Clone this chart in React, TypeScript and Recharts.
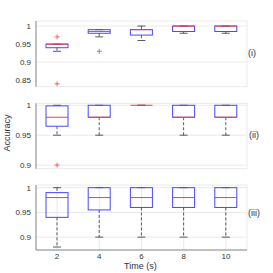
import { Bar, CartesianGrid, ComposedChart, Scatter, XAxis, YAxis } from "recharts"

const times = [2, 4, 6, 8, 10]

// panel (i)
const lo1 = [0.93, 0.97, 0.96, 0.98, 0.98]
const q1s1 = [0.94, 0.98, 0.975, 0.985, 0.985]
const med1 = [0.95, 0.985, 0.99, 1, 1]
const q3s1 = [0.95, 0.99, 0.99, 1, 1]
const hi1 = [0.95, 0.99, 1, 1, 1]
const outA1 = [0.97, 0.93, null, null, null]
const outB1 = [0.84, null, null, null, null]

// panel (ii)
const lo2 = [0.95, 0.95, 1, 0.95, 0.95]
const q1s2 = [0.965, 0.98, 1, 0.98, 0.98]
const med2 = [0.98, 0.98, 1, 0.98, 0.98]
const q3s2 = [0.999, 1, 1, 1, 1]
const hi2 = [1, 1, 1, 1, 1]
const outA2 = [0.9, null, null, null, null]
const outB2 = [null, null, null, null, null]

// panel (iii)
const lo3 = [0.88, 0.9, 0.9, 0.9, 0.9]
const q1s3 = [0.94, 0.955, 0.96, 0.96, 0.96]
const med3 = [0.98, 0.98, 0.98, 0.98, 0.98]
const q3s3 = [0.99, 1, 1, 1, 1]
const hi3 = [1, 1, 1, 1, 1]
const outA3 = [null, null, null, null, null]
const outB3 = [null, null, null, null, null]

const ticks1 = [0.85, 0.9, 0.95, 1]
const ticks23 = [0.9, 0.95, 1]

const FONT = '"Liberation Sans", Arial, sans-serif'
const AXIS = "#8a8a8a"
const BLUE = "#4747ff"
const RED = "#ff3a3a"
const WHISK = "#333"

function rows(lo: number[], q1: number[], med: number[], q3: number[], hi: number[], oa: (number | null)[], ob: (number | null)[]) {
  return times.map((t, i) => ({
    t,
    box: [q1[i], q3[i]],
    wLow: [lo[i], q1[i]],
    wHigh: [q3[i], hi[i]],
    med: med[i],
    outA: oa[i],
    outB: ob[i],
  }))
}

const BoxShape = (p: any) => (
  <rect x={p.x} y={p.y} width={p.width} height={Math.max(p.height, 0)} fill="none" stroke={BLUE} strokeWidth={1} />
)

const LowWhisker = (p: any) => {
  const cx = p.x + p.width / 2
  const yb = p.y + p.height
  return (
    <g>
      <line x1={cx} x2={cx} y1={p.y} y2={yb} stroke={WHISK} strokeWidth={0.8} strokeDasharray="3 2" />
      <line x1={cx - 4} x2={cx + 4} y1={yb} y2={yb} stroke={WHISK} strokeWidth={0.8} />
    </g>
  )
}

const HighWhisker = (p: any) => {
  const cx = p.x + p.width / 2
  return (
    <g>
      <line x1={cx} x2={cx} y1={p.y} y2={p.y + p.height} stroke={WHISK} strokeWidth={0.8} strokeDasharray="3 2" />
      <line x1={cx - 4} x2={cx + 4} y1={p.y} y2={p.y} stroke={WHISK} strokeWidth={0.8} />
    </g>
  )
}

const MedianShape = (p: any) => (
  <line x1={p.cx - 11} x2={p.cx + 11} y1={p.cy} y2={p.cy} stroke={RED} strokeWidth={1} />
)

const plusShape = (key: string) => (p: any) => {
  if (p.payload == null || p.payload[key] == null) return <g />
  return (
    <g>
      <line x1={p.cx - 2.5} x2={p.cx + 2.5} y1={p.cy} y2={p.cy} stroke={RED} strokeWidth={0.8} />
      <line x1={p.cx} x2={p.cx} y1={p.cy - 2.5} y2={p.cy + 2.5} stroke={RED} strokeWidth={0.8} />
    </g>
  )
}

interface PanelProps {
  data: any[]
  domain: [number, number]
  ticks: number[]
  top: number
  height: number
  marginTop: number
  marginBottom: number
  showX?: boolean
}

function Panel({ data, domain, ticks, top, height, marginTop, marginBottom, showX }: PanelProps) {
  const tickStyle = { fontSize: 8, fill: "#333", fontFamily: FONT }
  return (
    <div style={{ position: "absolute", left: 0, top }}>
      <ComposedChart width={273} height={height} data={data} margin={{ top: marginTop, right: 26, bottom: marginBottom, left: 0 }}>
        <CartesianGrid stroke="#e4e4e4" strokeWidth={0.8} />
        <XAxis
          dataKey="t"
          type="category"
          height={showX ? 23 : 0}
          tick={showX ? tickStyle : false}
          tickLine={false}
          tickSize={0}
          tickMargin={3}
          axisLine={{ stroke: AXIS }}
        />
        <XAxis xAxisId="top" dataKey="t" orientation="top" height={0} tick={false} tickLine={false} axisLine={{ stroke: AXIS }} />
        <XAxis xAxisId="wl" dataKey="t" hide />
        <XAxis xAxisId="wh" dataKey="t" hide />
        <YAxis
          type="number"
          domain={domain}
          ticks={ticks}
          allowDataOverflow
          width={36}
          tick={tickStyle}
          tickLine={false}
          tickSize={0}
          tickMargin={5}
          axisLine={{ stroke: AXIS }}
        />
        <YAxis yAxisId="r" orientation="right" type="number" domain={domain} width={0} tick={false} tickLine={false} axisLine={{ stroke: AXIS }} />
        <Bar xAxisId="wl" dataKey="wLow" barSize={22} shape={LowWhisker} isAnimationActive={false} />
        <Bar xAxisId="wh" dataKey="wHigh" barSize={22} shape={HighWhisker} isAnimationActive={false} />
        <Bar dataKey="box" barSize={22} shape={BoxShape} isAnimationActive={false} />
        <Scatter dataKey="med" shape={MedianShape} isAnimationActive={false} />
        <Scatter dataKey="outA" shape={plusShape("outA")} isAnimationActive={false} />
        <Scatter dataKey="outB" shape={plusShape("outB")} isAnimationActive={false} />
      </ComposedChart>
    </div>
  )
}

const label = (text: string, left: number, top: number, extra: any = {}) => (
  <div style={{ position: "absolute", left, top, fontSize: 9, lineHeight: "10px", fontFamily: FONT, color: "#333", whiteSpace: "nowrap", ...extra }}>
    {text}
  </div>
)

export default function App() {
  return (
    <div style={{ position: "absolute", left: 0, top: 0, width: 273, height: 273, background: "#fff" }}>
      <Panel data={rows(lo1, q1s1, med1, q3s1, hi1, outA1, outB1)} domain={[0.832, 1.014]} ticks={ticks1} top={0} height={95} marginTop={21} marginBottom={8.3} />
      <Panel data={rows(lo2, q1s2, med2, q3s2, hi2, outA2, outB2)} domain={[0.894, 1.0033]} ticks={ticks23} top={95} height={80} marginTop={8.3} marginBottom={6.3} />
      <Panel data={rows(lo3, q1s3, med3, q3s3, hi3, outA3, outB3)} domain={[0.874, 1.0054]} ticks={ticks23} top={175} height={98} marginTop={10} marginBottom={0} showX />
      {label("(i)", 248, 48)}
      {label("(ii)", 249, 130)}
      {label("(iii)", 248, 208)}
      {label("Time (s)", 124, 262, { lineHeight: "8px" })}
      {label("Accuracy", -14, 128, { transform: "rotate(-90deg)", width: 42, textAlign: "center" })}
    </div>
  )
}
